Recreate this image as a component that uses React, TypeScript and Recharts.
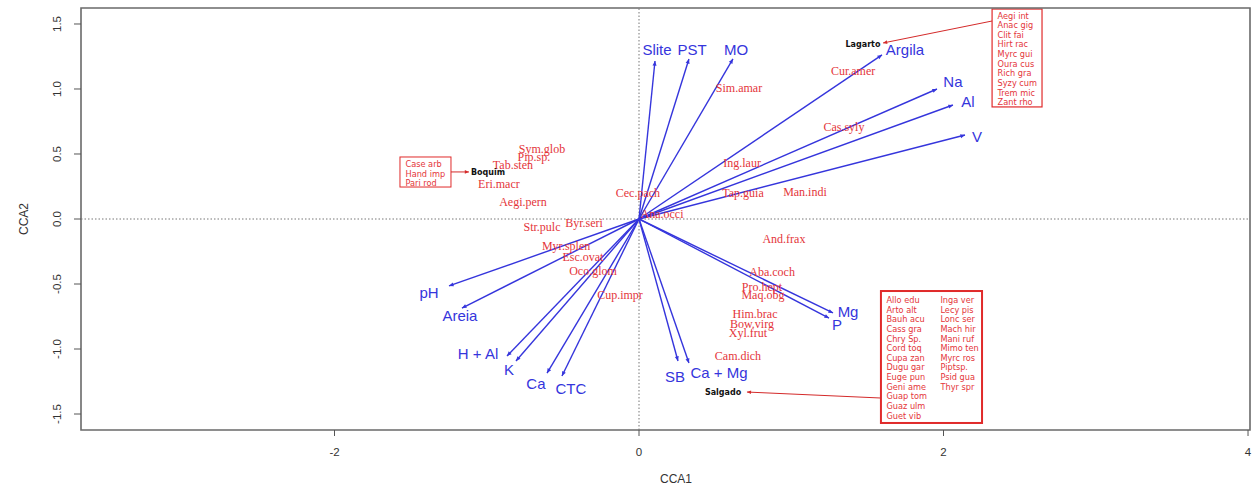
import React from 'react';
import {
  ScatterChart,
  Scatter,
  XAxis,
  YAxis,
  ReferenceLine,
  ReferenceArea,
  Label
} from 'recharts';

// axis ticks
const xTicks = [-2, 0, 2, 4];
const yTicks = [-1.5, -1, -0.5, 0, 0.5, 1, 1.5];

// environmental vectors: arrow tip (x, y) and label position (lx, ly)
const envVectors = [
  { name: 'Slite', x: 0.105, y: 1.215, lx: 0.118, ly: 1.3 },
  { name: 'PST', x: 0.328, y: 1.231, lx: 0.348, ly: 1.3 },
  { name: 'MO', x: 0.617, y: 1.231, lx: 0.637, ly: 1.3 },
  { name: 'Argila', x: 1.596, y: 1.262, lx: 1.747, ly: 1.3 },
  { name: 'Na', x: 1.957, y: 1.0, lx: 2.062, ly: 1.054 },
  { name: 'Al', x: 2.062, y: 0.877, lx: 2.161, ly: 0.9 },
  { name: 'V', x: 2.141, y: 0.646, lx: 2.22, ly: 0.638 },
  { name: 'Mg', x: 1.274, y: -0.723, lx: 1.373, ly: -0.715 },
  { name: 'P', x: 1.248, y: -0.762, lx: 1.3, ly: -0.815 },
  { name: 'Ca + Mg', x: 0.328, y: -1.108, lx: 0.525, ly: -1.177 },
  { name: 'SB', x: 0.256, y: -1.092, lx: 0.236, ly: -1.215 },
  { name: 'CTC', x: -0.506, y: -1.208, lx: -0.447, ly: -1.3 },
  { name: 'Ca', x: -0.604, y: -1.185, lx: -0.677, ly: -1.262 },
  { name: 'K', x: -0.808, y: -1.092, lx: -0.854, ly: -1.154 },
  { name: 'H + Al', x: -0.867, y: -1.054, lx: -1.057, ly: -1.031 },
  { name: 'Areia', x: -1.163, y: -0.685, lx: -1.176, ly: -0.746 },
  { name: 'pH', x: -1.248, y: -0.515, lx: -1.379, ly: -0.562 }
];

// species scores
const species = [
  { name: 'Sym.glob', x: -0.637, y: 0.538 },
  { name: 'Pip.sp.', x: -0.69, y: 0.477 },
  { name: 'Tab.sten', x: -0.828, y: 0.415 },
  { name: 'Eri.macr', x: -0.92, y: 0.269 },
  { name: 'Aegi.pern', x: -0.762, y: 0.131 },
  { name: 'Str.pulc', x: -0.637, y: -0.062 },
  { name: 'Byr.seri', x: -0.361, y: -0.031 },
  { name: 'Myr.splen', x: -0.479, y: -0.208 },
  { name: 'Esc.ovat', x: -0.368, y: -0.292 },
  { name: 'Oco.glom', x: -0.302, y: -0.4 },
  { name: 'Cup.impr', x: -0.125, y: -0.585 },
  { name: 'Cec.pach', x: -0.007, y: 0.2 },
  { name: 'Ana.occi', x: 0.151, y: 0.038 },
  { name: 'Sim.amar', x: 0.657, y: 1.008 },
  { name: 'Ing.laur', x: 0.677, y: 0.431 },
  { name: 'Tap.guia', x: 0.683, y: 0.2 },
  { name: 'Man.indi', x: 1.09, y: 0.208 },
  { name: 'Cur.amer', x: 1.406, y: 1.138 },
  { name: 'Cas.syly', x: 1.346, y: 0.708 },
  { name: 'And.frax', x: 0.952, y: -0.154 },
  { name: 'Aba.coch', x: 0.874, y: -0.408 },
  { name: 'Pro.hept', x: 0.808, y: -0.523 },
  { name: 'Maq.obg', x: 0.814, y: -0.585 },
  { name: 'Him.brac', x: 0.762, y: -0.731 },
  { name: 'Bow.virg', x: 0.742, y: -0.808 },
  { name: 'Xyl.frut', x: 0.716, y: -0.877 },
  { name: 'Cam.dich', x: 0.65, y: -1.054 }
];

// sites: point (x, y), label centre (lx, ly), start of the pointer from the list box
const sites = [
  { name: 'Boquim', x: -1.117, y: 0.362, lx: -0.992, ly: 0.354, fx: -1.235, fy: 0.362 },
  { name: 'Lagarto', x: 1.603, y: 1.354, lx: 1.471, ly: 1.346, fx: 2.319, fy: 1.523 },
  { name: 'Salgado', x: 0.709, y: -1.331, lx: 0.552, ly: -1.331, fx: 1.589, fy: -1.377 }
];

// species exclusive to each site
const boquimOnly = ['Case arb', 'Hand imp', 'Pari rod'];
const lagartoOnly = [
  'Aegi int', 'Anac gig', 'Clit fai', 'Hirt rac', 'Myrc gui',
  'Oura cus', 'Rich gra', 'Syzy cum', 'Trem mic', 'Zant rho'
];
const salgadoOnlyA = [
  'Allo edu', 'Arto alt', 'Bauh acu', 'Cass gra', 'Chry Sp.', 'Cord toq', 'Cupa zan',
  'Dugu gar', 'Euge pun', 'Geni ame', 'Guap tom', 'Guaz ulm', 'Guet vib'
];
const salgadoOnlyB = [
  'Inga ver', 'Lecy pis', 'Lonc ser', 'Mach hir', 'Mani ruf',
  'Mimo ten', 'Myrc ros', 'Piptsp.', 'Psid gua', 'Thyr spr'
];

const X_DOMAIN: [number, number] = [-3.665, 4.013];
const Y_DOMAIN: [number, number] = [-1.623, 1.623];

const BLUE = '#3535dc';
const RED = '#e4353a';
const BOX_RED = '#e02a2a';

const arrowShape = (color: string, width: number, head: number) => (p: any) => {
  const { x1, y1, x2, y2 } = p;
  const a = Math.atan2(y2 - y1, x2 - x1);
  const s = 0.42;
  const ax = x2 - head * Math.cos(a - s);
  const ay = y2 - head * Math.sin(a - s);
  const bx = x2 - head * Math.cos(a + s);
  const by = y2 - head * Math.sin(a + s);
  return (
    <g>
      <line x1={x1} y1={y1} x2={x2} y2={y2} stroke={color} strokeWidth={width} />
      <polygon points={`${x2},${y2} ${ax},${ay} ${bx},${by}`} fill={color} />
    </g>
  );
};

// list box: rectangle with one or more columns of species codes
const boxShape = (columns: string[][], strokeWidth: number, firstLine: number) => (p: any) => {
  const { x, y, width, height } = p;
  return (
    <g>
      <rect x={x} y={y} width={width} height={height} fill="#fff" stroke={BOX_RED} strokeWidth={strokeWidth} />
      {columns.map((col, ci) =>
        col.map((s, i) => (
          <text
            key={`${ci}-${i}`}
            x={x + 5.5 + ci * 54}
            y={y + firstLine + i * 9.63}
            dominantBaseline="central"
            fontFamily="DejaVu Sans, sans-serif"
            fontSize={8.2}
            fill={RED}
          >
            {s}
          </text>
        ))
      )}
    </g>
  );
};

const textShape = (font: string, size: number, color: string, weight = 'normal') => (p: any) => (
  <text
    x={p.cx}
    y={p.cy}
    textAnchor="middle"
    dominantBaseline="central"
    fontFamily={font}
    fontSize={size}
    fontWeight={weight}
    fill={color}
  >
    {p.payload.name}
  </text>
);

const XTick = ({ x, y, payload }: any) => (
  <text x={x} y={y + 20} textAnchor="middle" fontSize={11.5} fill="#333">
    {payload.value}
  </text>
);

const YTick = ({ x, y, payload }: any) => (
  <text
    x={x - 13}
    y={y}
    textAnchor="middle"
    fontSize={11.5}
    fill="#333"
    transform={`rotate(-90 ${x - 13} ${y})`}
  >
    {Number(payload.value).toFixed(1)}
  </text>
);

const App: React.FC = () => {
  const envLabels = envVectors.map(v => ({ name: v.name, x: v.lx, y: v.ly }));
  const siteLabels = sites.map(s => ({ name: s.name, x: s.lx, y: s.ly }));

  return (
    <div style={{ position: 'absolute', left: 0, top: 0, width: 1254, height: 486, background: '#fff', fontFamily: 'Liberation Sans, Arial, sans-serif' }}>
      <ScatterChart width={1254} height={486} margin={{ top: 8, right: 4, bottom: 0, left: 0 }}>
        <XAxis
          type="number"
          dataKey="x"
          domain={X_DOMAIN}
          ticks={xTicks}
          allowDataOverflow
          axisLine={false}
          tickSize={6}
          tickMargin={0}
          tickLine={{ stroke: '#555' }}
          tick={<XTick />}
          height={56}
        >
          <Label
            content={({ viewBox }: any) => (
              <text
                x={viewBox.x + viewBox.width / 2 + 10.5}
                y={viewBox.y + viewBox.height - 3}
                textAnchor="middle"
                fontSize={12}
                fill="#333"
              >
                CCA1
              </text>
            )}
          />
        </XAxis>
        <YAxis
          type="number"
          dataKey="y"
          domain={Y_DOMAIN}
          ticks={yTicks}
          allowDataOverflow
          axisLine={false}
          tickSize={7}
          tickMargin={0}
          tickLine={{ stroke: '#555' }}
          tick={<YTick />}
          width={81}
        >
          <Label
            content={({ viewBox }: any) => (
              <text
                x={27.5}
                y={viewBox.y + viewBox.height / 2}
                textAnchor="middle"
                fontSize={12}
                fill="#333"
                transform={`rotate(-90 27.5 ${viewBox.y + viewBox.height / 2})`}
              >
                CCA2
              </text>
            )}
          />
        </YAxis>

        <ReferenceLine x={0} stroke="#777" strokeDasharray="1.5 2" />
        <ReferenceLine y={0} stroke="#777" strokeDasharray="1.5 2" />

        {envVectors.map(v => (
          <ReferenceLine
            key={v.name}
            segment={[{ x: 0, y: 0 }, { x: v.x, y: v.y }]}
            ifOverflow="visible"
            shape={arrowShape(BLUE, 1.4, 5)}
          />
        ))}

        {sites.map(s => (
          <ReferenceLine
            key={s.name}
            segment={[{ x: s.fx, y: s.fy }, { x: s.x, y: s.y }]}
            ifOverflow="visible"
            shape={arrowShape('#d42a2a', 1, 4.5)}
          />
        ))}

        <ReferenceArea x1={-1.57} x2={-1.235} y1={0.246} y2={0.477} ifOverflow="visible" shape={boxShape([boquimOnly], 1, 7)} />
        <ReferenceArea x1={2.319} x2={2.647} y1={0.862} y2={1.615} ifOverflow="visible" shape={boxShape([lagartoOnly], 1.2, 6.5)} />
        <ReferenceArea x1={1.589} x2={2.253} y1={-1.569} y2={-0.554} ifOverflow="visible" shape={boxShape([salgadoOnlyA, salgadoOnlyB], 2, 9)} />

        <Scatter data={species} isAnimationActive={false} shape={textShape('Liberation Serif, serif', 12, RED)} />
        <Scatter data={envLabels} isAnimationActive={false} shape={textShape('Liberation Sans, Arial, sans-serif', 15, BLUE)} />
        <Scatter data={siteLabels} isAnimationActive={false} shape={textShape('DejaVu Sans, sans-serif', 8, '#111', 'bold')} />

        <ReferenceArea
          x1={X_DOMAIN[0]}
          x2={X_DOMAIN[1]}
          y1={Y_DOMAIN[0]}
          y2={Y_DOMAIN[1]}
          ifOverflow="visible"
          fill="none"
          fillOpacity={0}
          stroke="#6a6a6a"
          strokeWidth={1.6}
        />
      </ScatterChart>
    </div>
  );
};

export default App;
